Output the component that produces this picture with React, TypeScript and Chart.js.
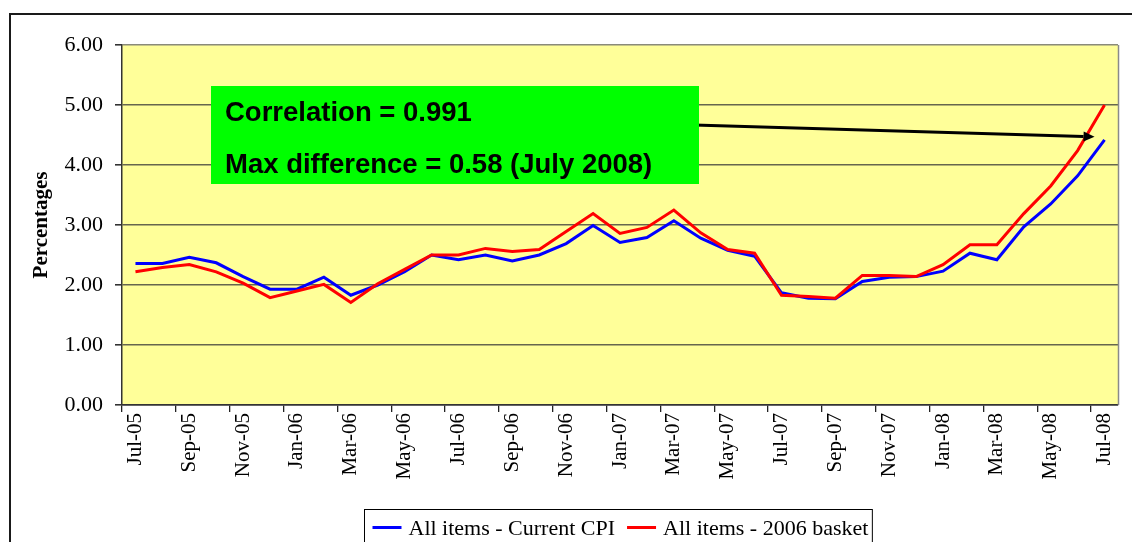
import React, { useEffect, useRef } from 'react';
import { Chart, registerables } from 'chart.js';

Chart.register(...registerables);

const months = [
  'Jul-05', 'Aug-05', 'Sep-05', 'Oct-05', 'Nov-05', 'Dec-05',
  'Jan-06', 'Feb-06', 'Mar-06', 'Apr-06', 'May-06', 'Jun-06',
  'Jul-06', 'Aug-06', 'Sep-06', 'Oct-06', 'Nov-06', 'Dec-06',
  'Jan-07', 'Feb-07', 'Mar-07', 'Apr-07', 'May-07', 'Jun-07',
  'Jul-07', 'Aug-07', 'Sep-07', 'Oct-07', 'Nov-07', 'Dec-07',
  'Jan-08', 'Feb-08', 'Mar-08', 'Apr-08', 'May-08', 'Jun-08',
  'Jul-08',
];

const currentCPI = [
  2.36, 2.36, 2.46, 2.37, 2.14, 1.93, 1.93, 2.13, 1.83, 2.0, 2.22, 2.5,
  2.42, 2.5, 2.4, 2.5, 2.69, 2.99, 2.71, 2.79, 3.07, 2.78, 2.58, 2.48,
  1.87, 1.78, 1.77, 2.06, 2.13, 2.14, 2.23, 2.53, 2.42, 2.97, 3.35, 3.82,
  4.42,
];

const basket2006 = [
  2.22, 2.29, 2.34, 2.22, 2.03, 1.79, 1.9, 2.01, 1.71, 2.02, 2.26, 2.5,
  2.5, 2.61, 2.56, 2.59, 2.89, 3.19, 2.86, 2.96, 3.25, 2.87, 2.59, 2.53,
  1.83, 1.81, 1.78, 2.16, 2.16, 2.14, 2.34, 2.67, 2.67, 3.19, 3.65, 4.24,
  5.0,
];

const seriesLabels = ['All items - Current CPI', 'All items - 2006 basket'];
const seriesColors = ['#0000FF', '#FF0000'];
const yTitle = 'Percentages';
const annotationLines = ['Correlation = 0.991', 'Max difference = 0.58 (July 2008)'];

const SERIF = "'Liberation Serif', 'Times New Roman', serif";
const SANS = "'Liberation Sans', Arial, sans-serif";

const decorPlugin = {
  id: 'decor',
  beforeDraw(chart: any) {
    const { ctx, chartArea } = chart;
    ctx.save();
    ctx.fillStyle = '#FFFFFF';
    ctx.fillRect(0, 0, chart.width, chart.height);
    // outer frame
    ctx.strokeStyle = '#1a1a1a';
    ctx.lineWidth = 2;
    ctx.strokeRect(10, 14, 2000, 2000);
    // plot background
    ctx.fillStyle = '#FFFF99';
    ctx.fillRect(chartArea.left, chartArea.top, chartArea.right - chartArea.left, chartArea.bottom - chartArea.top);
    ctx.restore();
  },
  afterDatasetsDraw(chart: any) {
    const { ctx, chartArea, scales } = chart;
    ctx.save();
    // right border of plot
    ctx.strokeStyle = '#8a8a8a';
    ctx.lineWidth = 1.5;
    ctx.beginPath();
    ctx.moveTo(chartArea.right + 0.5, chartArea.top);
    ctx.lineTo(chartArea.right + 0.5, chartArea.bottom);
    ctx.stroke();

    // arrow
    const lastIdx = months.length - 1;
    const tipX = scales.x.getPixelForValue(lastIdx) - 10;
    const tipY = scales.y.getPixelForValue(4.47);
    const startX = 699;
    const startY = 125;
    const ang = Math.atan2(tipY - startY, tipX - startX);
    const headLen = 11;
    const headW = 5;
    ctx.strokeStyle = '#000';
    ctx.fillStyle = '#000';
    ctx.lineWidth = 3;
    ctx.beginPath();
    ctx.moveTo(startX - 5, startY);
    ctx.lineTo(tipX - headLen * Math.cos(ang), tipY - headLen * Math.sin(ang));
    ctx.stroke();
    ctx.beginPath();
    ctx.moveTo(tipX, tipY);
    ctx.lineTo(
      tipX - headLen * Math.cos(ang) + headW * Math.sin(ang),
      tipY - headLen * Math.sin(ang) - headW * Math.cos(ang)
    );
    ctx.lineTo(
      tipX - headLen * Math.cos(ang) - headW * Math.sin(ang),
      tipY - headLen * Math.sin(ang) + headW * Math.cos(ang)
    );
    ctx.closePath();
    ctx.fill();

    // green annotation box
    ctx.fillStyle = '#00FF00';
    ctx.fillRect(211, 86, 488, 98);
    ctx.fillStyle = '#000';
    ctx.font = `bold 27.5px ${SANS}`;
    ctx.textAlign = 'left';
    ctx.textBaseline = 'alphabetic';
    ctx.fillText(annotationLines[0], 225, 121);
    ctx.fillText(annotationLines[1], 225, 173);

    // legend
    ctx.font = `22px ${SERIF}`;
    const left = 364.5;
    const top = 509.5;
    let x = left + 8;
    const sample = 29;
    const items: { sx: number; tx: number; w: number }[] = [];
    seriesLabels.forEach((lab) => {
      const w = ctx.measureText(lab).width;
      items.push({ sx: x, tx: x + sample + 7, w });
      x = x + sample + 7 + w + 12;
    });
    const right = x - 12 + 4;
    ctx.fillStyle = '#FFFFFF';
    ctx.fillRect(left, top, right - left, 60);
    ctx.strokeStyle = '#000';
    ctx.lineWidth = 1;
    ctx.strokeRect(left, top, right - left, 60);
    items.forEach((it, i) => {
      ctx.strokeStyle = seriesColors[i];
      ctx.lineWidth = 3;
      ctx.beginPath();
      ctx.moveTo(it.sx, 527.5);
      ctx.lineTo(it.sx + sample, 527.5);
      ctx.stroke();
      ctx.fillStyle = '#000';
      ctx.fillText(seriesLabels[i], it.tx, 535);
    });
    ctx.restore();
  },
};

export default function App() {
  const ref = useRef<HTMLCanvasElement | null>(null);

  useEffect(() => {
    if (!ref.current) return;
    const chart = new Chart(ref.current, {
      type: 'line',
      data: {
        labels: months,
        datasets: [
          {
            label: seriesLabels[0],
            data: currentCPI,
            borderColor: seriesColors[0],
            backgroundColor: seriesColors[0],
            borderWidth: 3,
            pointRadius: 0,
            tension: 0,
            order: 1,
          },
          {
            label: seriesLabels[1],
            data: basket2006,
            borderColor: seriesColors[1],
            backgroundColor: seriesColors[1],
            borderWidth: 3,
            pointRadius: 0,
            tension: 0,
            order: 0,
          },
        ],
      },
      options: {
        animation: false,
        responsive: false,
        maintainAspectRatio: false,
        layout: { padding: { left: 0, top: 45, right: 14, bottom: 0 } },
        plugins: {
          legend: { display: false },
          tooltip: { enabled: false },
          title: { display: false },
        },
        scales: {
          x: {
            type: 'category',
            offset: true,
            grid: {
              offset: true,
              drawOnChartArea: false,
              drawTicks: true,
              tickLength: 7,
              lineWidth: 1.3,
              color: (c: any) => (c.index !== undefined && c.index % 2 === 0 ? '#222' : 'rgba(0,0,0,0)'),
            },
            border: { display: true, color: '#333', width: 1.5 },
            ticks: {
              autoSkip: false,
              maxRotation: 90,
              minRotation: 90,
              padding: 1,
              color: '#000',
              font: { family: SERIF, size: 21 },
              callback: (_v: any, i: number) => (i % 2 === 0 ? months[i] : ''),
            },
            afterFit: (s: any) => {
              s.height = 137;
            },
          },
          y: {
            min: 0,
            max: 6,
            ticks: {
              stepSize: 1,
              padding: 12,
              color: '#000',
              font: { family: SERIF, size: 22 },
              callback: (v: any) => Number(v).toFixed(2),
            },
            grid: {
              lineWidth: 1.6,
              tickLength: 7,
              tickColor: '#333',
              color: (c: any) => {
                const v = c.tick ? c.tick.value : -1;
                if (v === 0) return '#333';
                if (v === 6) return '#8a8a7a';
                return '#66664e';
              },
            },
            border: { display: true, color: '#333', width: 1.5 },
            title: {
              display: true,
              text: yTitle,
              color: '#000',
              font: { family: SERIF, size: 21, weight: 'bold' },
              padding: { top: 29, bottom: 0 },
            },
            afterFit: (s: any) => {
              s.width = 122;
            },
          },
        },
      },
      plugins: [decorPlugin],
    });
    return () => chart.destroy();
  }, []);

  return (
    <div style={{ position: 'absolute', left: 0, top: 0, width: 1132, height: 542 }}>
      <canvas ref={ref} width={1132} height={542} style={{ display: 'block', width: 1132, height: 542 }} />
    </div>
  );
}
